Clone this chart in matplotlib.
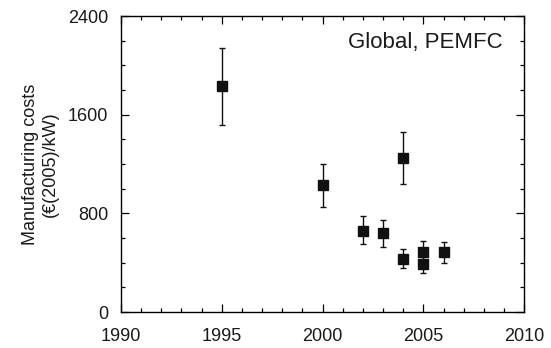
import numpy as np
import matplotlib.pyplot as plt
from matplotlib.ticker import MultipleLocator

plt.rcParams['font.family'] = ['Liberation Sans', 'DejaVu Sans']

# Data
years = [1995, 2000, 2002, 2003, 2004, 2004, 2005, 2005, 2006]
costs = [1830, 1030, 660, 640, 1245, 430, 490, 390, 485]
err_low = [1515, 850, 550, 530, 1040, 360, 420, 320, 400]
err_high = [2140, 1200, 775, 750, 1460, 510, 575, 455, 570]

costs = np.array(costs)
yerr = [costs - np.array(err_low), np.array(err_high) - costs]

text_col = '#1a1a1a'

fig = plt.figure(figsize=(5.51, 3.48), dpi=100)
ax = fig.add_axes([0.2196, 0.1034, 0.7318, 0.8506])

ax.errorbar(years, costs, yerr=yerr, fmt='s', color='#111111', ms=6.8,
            ecolor='#111111', elinewidth=1.0, capsize=2.5, capthick=1.0)

ax.set_xlim(1990, 2010)
ax.set_ylim(0, 2400)
ax.xaxis.set_major_locator(MultipleLocator(5))
ax.xaxis.set_minor_locator(MultipleLocator(1))
ax.yaxis.set_major_locator(MultipleLocator(800))
ax.yaxis.set_minor_locator(MultipleLocator(200))
ax.tick_params(which='both', direction='in', top=True, right=True,
               labelsize=13, width=0.9, labelcolor=text_col)
ax.tick_params(which='major', length=6)
ax.tick_params(which='minor', length=3)
ax.tick_params(axis='x', which='major', pad=11.5)
ax.tick_params(axis='y', which='major', pad=9)
for s in ax.spines.values():
    s.set_linewidth(1.0)

ax.set_ylabel('Manufacturing costs\n(€(2005)/kW)', fontsize=13,
              linespacing=1.15, color=text_col, labelpad=7)
ax.text(0.947, 0.909, 'Global, PEMFC', transform=ax.transAxes,
        ha='right', va='center', fontsize=16, color=text_col)

fig.savefig('out.png', dpi=100)
